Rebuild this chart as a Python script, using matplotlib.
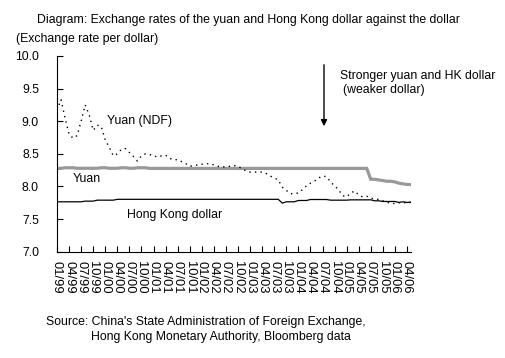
"""
Yuan, Yuan NDF and Hong Kong dollar against the US dollar, monthly 01/99 - 05/06.
"""

import numpy as np
import matplotlib.pyplot as plt

plt.rcParams["font.family"] = ["Liberation Sans", "DejaVu Sans"]

# monthly values, 01/99 .. 05/06 (89 months)
yuan_ndf = [
    9.17, 9.33, 9.05, 8.80, 8.74, 8.78, 9.00, 9.25, 9.10, 8.86,
    8.94, 8.92, 8.71, 8.60, 8.47, 8.50, 8.57, 8.58, 8.52, 8.46,
    8.39, 8.47, 8.50, 8.49, 8.47, 8.45, 8.47, 8.48, 8.43, 8.41,
    8.41, 8.38, 8.35, 8.31, 8.32, 8.33, 8.34, 8.35, 8.35, 8.33,
    8.31, 8.30, 8.30, 8.31, 8.32, 8.31, 8.27, 8.24, 8.22, 8.22,
    8.22, 8.22, 8.20, 8.16, 8.13, 8.10, 7.99, 7.94, 7.89, 7.89,
    7.90, 7.95, 8.01, 8.05, 8.08, 8.13, 8.16, 8.15, 8.07, 8.01,
    7.95, 7.86, 7.84, 7.90, 7.93, 7.87, 7.84, 7.85, 7.82, 7.81,
    7.80, 7.78, 7.76, 7.74, 7.74, 7.75, 7.76, 7.74, 7.76,
]

yuan = [8.277] * 2 + [8.287] * 3 + [8.279] * 6 + [8.287] * 2 + [8.279] * 3 \
    + [8.287] * 2 + [8.279] * 2 + [8.287] * 3 + [8.277] * 55 \
    + [8.11, 8.11, 8.10, 8.09, 8.08, 8.08, 8.07, 8.05, 8.04, 8.03, 8.03]

hkd = [7.765] * 7 + [7.775] * 3 + [7.79] * 5 + [7.803] * 41 \
    + [7.745, 7.765, 7.765, 7.765, 7.785, 7.785, 7.785] \
    + [7.80] * 5 + [7.79] * 5 + [7.795] * 6 \
    + [7.78, 7.78, 7.77, 7.77, 7.77, 7.77, 7.755, 7.765, 7.755, 7.76]

tick_labels = [f"{m:02d}/{y:02d}" for y in (99, 0, 1, 2, 3, 4, 5, 6)
               for m in (1, 4, 7, 10)][:30]

months = np.arange(len(yuan_ndf))
fs = 8.8

fig = plt.figure(figsize=(5.06, 3.58), dpi=100)
ax = fig.add_axes([57 / 506, 106.3 / 358, 354 / 506, 195.7 / 358])

ax.plot(months, yuan, color="#999999", lw=2.3, solid_joinstyle="miter")
ax.plot(months, hkd, color="black", lw=0.9)
ax.plot(months, yuan_ndf, color="black", lw=1.0, linestyle=(0, (1, 3)))

ax.set_xlim(0, 88)
ax.set_ylim(7.0, 10.0)
ax.set_yticks(np.arange(7.0, 10.01, 0.5))
ax.set_yticklabels([f"{v:.1f}" for v in np.arange(7.0, 10.01, 0.5)])
ax.set_xticks(np.arange(0, 88, 3))
ax.set_xticklabels(tick_labels, rotation=-90)
ax.tick_params(axis="both", direction="in", length=4, width=0.8,
               labelsize=fs, colors="black")
ax.tick_params(axis="x", pad=7, labelsize=9.3)
ax.tick_params(axis="y", pad=13)
for side in ("top", "right"):
    ax.spines[side].set_visible(False)
for side in ("left", "bottom"):
    ax.spines[side].set_linewidth(0.8)

ax.text(12.5, 9.01, "Yuan (NDF)", fontsize=fs, va="center")
ax.text(4, 8.11, "Yuan", fontsize=fs, va="center")
ax.text(17.5, 7.57, "Hong Kong dollar", fontsize=fs, va="center")

# arrow
fig.add_artist(plt.matplotlib.patches.FancyArrowPatch(
    (324 / 506, 1 - 62 / 358), (324 / 506, 1 - 129 / 358),
    transform=fig.transFigure, arrowstyle="-|>", mutation_scale=9,
    color="black", lw=1.0))
fig.text(340 / 506, 1 - 76 / 358, "Stronger yuan and HK dollar",
         fontsize=fs, va="center")
fig.text(343 / 506, 1 - 90 / 358, "(weaker dollar)", fontsize=fs,
         va="center")

fig.text(37 / 506, 1 - 20 / 358,
         "Diagram: Exchange rates of the yuan and Hong Kong dollar against the dollar",
         fontsize=fs, va="center")
fig.text(16 / 506, 1 - 39 / 358, "(Exchange rate per dollar)",
         fontsize=fs, va="center")
fig.text(46 / 506, 1 - 322 / 358,
         "Source: China's State Administration of Foreign Exchange,",
         fontsize=fs, va="center")
fig.text(91 / 506, 1 - 337 / 358,
         "Hong Kong Monetary Authority, Bloomberg data",
         fontsize=fs, va="center")

fig.savefig("out.png", dpi=100)
